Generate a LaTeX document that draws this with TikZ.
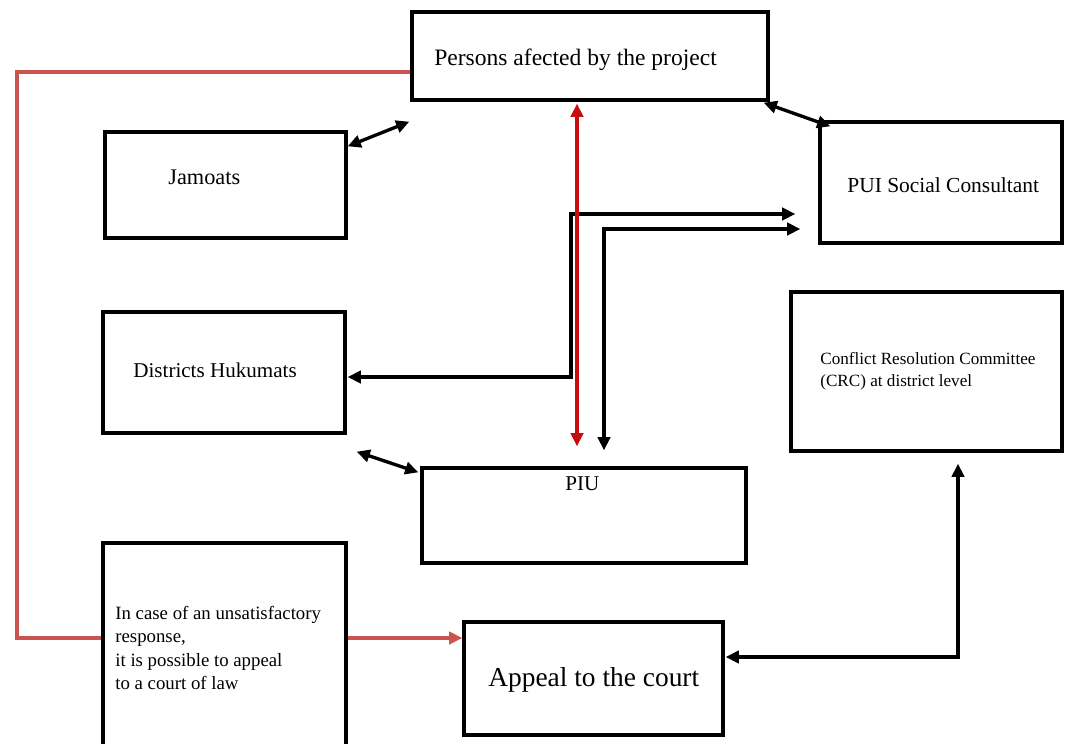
\documentclass[tikz,border=0pt]{standalone}
\usepackage{fontspec}
\setmainfont{Liberation Serif}
\usetikzlibrary{arrows.meta,fit,calc}
\definecolor{softred}{RGB}{202,84,80}
\definecolor{strongred}{RGB}{200,12,12}
\begin{document}
\begin{tikzpicture}[x=0.02cm,y=-0.02cm,
  box/.style={draw=black, line width=1.9pt, inner sep=0pt, rectangle},
  lbl/.style={anchor=west, inner sep=0pt, text=black},
  link/.style={draw=black, line width=1.9pt, {Triangle[length=7.5pt,width=7pt]}-{Triangle[length=7.5pt,width=7pt]}},
  redlink/.style={draw=strongred, line width=1.9pt, {Triangle[length=7.5pt,width=7pt]}-{Triangle[length=7.5pt,width=7pt]}},
  softline/.style={draw=softred, line width=2.2pt},
  softarrow/.style={draw=softred, line width=2.2pt, -{Triangle[length=7.5pt,width=7pt]}}
]
\useasboundingbox (0,0) rectangle (1070,743);

% boxes
\node[box, fit={(412,12) (768,100)}] (persons) {};
\node[box, fit={(105,132) (346,238)}] (jamoats) {};
\node[box, fit={(820,122) (1062,243)}] (pui) {};
\node[box, fit={(103,312) (345,433)}] (districts) {};
\node[box, fit={(791,292) (1062,451)}] (crc) {};
\node[box, fit={(422,468) (746,563)}] (piu) {};
\node[box, fit={(103,543) (346,752)}] (note) {};
\node[box, fit={(464,622) (723,735)}] (court) {};

% texts
\node[lbl, font=\fontsize{13.4}{16}\selectfont] (tpersons) at (434,60) {Persons afected by the project};
\node[lbl, font=\fontsize{12.7}{15}\selectfont] (tjam) at (168,177) {Jamoats};
\node[lbl, font=\fontsize{12.2}{15}\selectfont] (tpui) at (847,185) {PUI Social Consultant};
\node[lbl, font=\fontsize{12}{15}\selectfont] (tdist) at (133,370) {Districts Hukumats};
\node[lbl, font=\fontsize{9.75}{12.5}\selectfont, align=left] (tcrc) at (820,371) {Conflict Resolution Committee\\(CRC) at district level};
\node[lbl, font=\fontsize{12}{15}\selectfont] (tpiu) at (565,484) {PIU};
\node[lbl, font=\fontsize{10.7}{13.3}\selectfont, align=left] (tnote) at (115,648) {In case of an unsatisfactory\\response,\\it is possible to appeal\\to a court of law};
\node[lbl, font=\fontsize{15.6}{18}\selectfont] (tcourt) at (488,680) {Appeal to the court};

% red L-shaped line
\coordinate (r0) at ($(persons.west)+(0,16)$);
\coordinate (rc) at (17,72);
\coordinate (r1) at ($(note.west)+(0,-9.5)$);
\draw[softline] (r0) -- (rc) -- (rc |- r1) -- (r1);
\coordinate (r2) at ($(note.east)+(0,-9.5)$);
\draw[softarrow] (r2) -- (r2 -| court.west);

% diagonal double arrows
\draw[link] ($(jamoats.north east)+(0,16)$) -- ($(persons.south west)+(-1,20)$);
\draw[link] ($(pui.north west)+(12,6)$) -- ($(persons.south east)+(-6,1)$);
\draw[link] ($(districts.south east)+(10,17)$) -- ($(piu.north west)+(-2,6)$);

% districts <-> PUI
\coordinate (d0) at ($(districts.east)+(1,4.5)$);
\coordinate (j1) at (571,214);
\coordinate (p0) at ($(pui.west)+(-23,31.5)$);
\draw[link] (d0) -- (d0 -| j1) -- (j1) -- (p0);

% PUI <-> PIU
\coordinate (p1) at ($(pui.west)+(-18,46.5)$);
\coordinate (u0) at ($(piu.north)+(20,-16)$);
\draw[link] (p1) -- (p1 -| u0) -- (u0);

% court <-> CRC
\coordinate (c0) at ($(court.east)+(1,-21.5)$);
\coordinate (c1) at ($(crc.south)+(31.5,11)$);
\draw[link] (c0) -- (c0 -| c1) -- (c1);

% red vertical double arrow (on top)
\coordinate (v0) at ($(persons.south)+(-13,2)$);
\coordinate (v1) at ($(piu.north)+(-7,-20)$);
\draw[redlink] (v0) -- (v1);
\end{tikzpicture}
\end{document}
